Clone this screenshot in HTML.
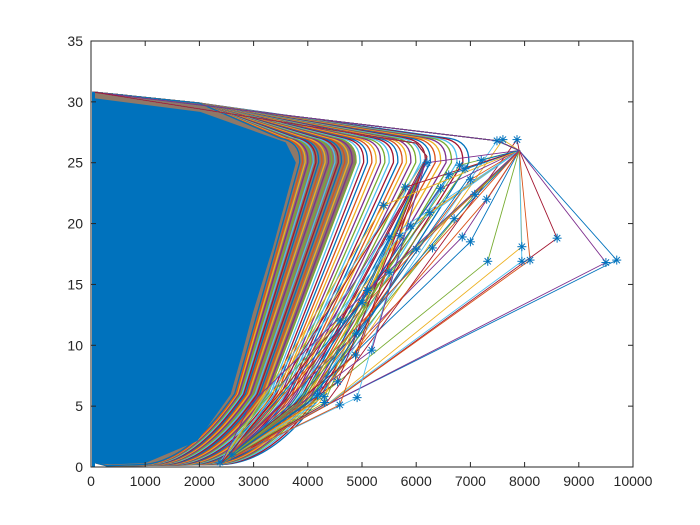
<!DOCTYPE html>
<html><head><meta charset="utf-8"><style>
body{margin:0;background:#fff;}
svg{display:block;font-family:"Liberation Sans",Arial,sans-serif;}
</style></head><body>
<svg id="chart" width="700" height="525">
<rect x="0" y="0" width="700" height="525" fill="#fff"/>
<rect x="91" y="41" width="542" height="426" fill="#fff"/>
<g id="marks"></g>
<g id="axes"></g>
</svg>
<script>
const xTicks=[0,1000,2000,3000,4000,5000,6000,7000,8000,9000,10000];
const yTicks=[0,5,10,15,20,25,30,35];
const kneeX=[3850,3900,3950,4000,4050,4100,4150,4200,4260,4320,4380,4440,4500,4560,4620,4680,4750,4820,4890,4960,5030,5100,5180,5260,5340,5420,5500,5580,5660,5740,5820,5900,5990,6080,6170,6260,6350,6450,6550,6650,6750,6860,6970];
const lowX=[2650,2680,2700,2730,2760,2790,2820,2850,2880,2910,2950,2990,3030,3070,3110,3150,3190,3230,3270,3310,3350,3390,3430,3470,3510,3550,3590,3630,3670,3710,3750,3790,3830,3870,3910,3950,3990,4030,4070,4110,4160,4210,4260];
const starX=[9700,9500,8600,7950,7950,8100,7320,7000,6850,7860,7600,7490,7000,7080,6700,6450,6250,5900,5500,6000,5500,5000,4900,4550,4300,4910,4590,4310,4180,5180,4880,2600,2380,7300,6900,6600,6200,5800,5400,5700,6300,6800,7200,5100,4600];
const starY=[17.0,16.8,18.8,18.1,16.9,17.0,16.9,18.5,18.9,26.9,26.9,26.8,23.6,22.4,20.4,22.9,20.9,19.8,18.9,17.9,16.0,13.5,11.0,7.0,5.8,5.7,5.1,5.3,5.9,9.6,9.2,1.0,0.4,22.0,24.5,24.0,25.0,23.0,21.5,19.0,18.0,24.8,25.2,14.5,12.0];
const cloudX=[74,2010,3580,3760,3340,2970,2750,2560,1950,1000,350,74];
const cloudY=[30.2,29.1,26.6,25.0,18.1,12.7,9.0,6.0,2.2,0.4,0.3,0.4];
const X0=91,X1=633,Y0=467,Y1=41;
const sx=v=>X0+(v/10000)*(X1-X0);
const sy=v=>Y0-(v/35)*(Y0-Y1);
const NS="http://www.w3.org/2000/svg";
const cols=["#0072BD","#D95319","#EDB120","#7E2F8E","#77AC30","#4DBEEE","#A2142F"];
const marks=document.getElementById('marks');
const axes=document.getElementById('axes');
function mk(t,a,p){const e=document.createElementNS(NS,t);for(const k in a)e.setAttribute(k,a[k]);p.appendChild(e);return e;}
const P=(x,y)=>sx(x).toFixed(1)+' '+sy(y).toFixed(1);
function trajPath(K,M){
 const E=900+(M-2650)*0.9;
 return 'M'+P(40,30.8)+' L'+P(2000,29.9)+' L'+P(K-350,27.0)+' Q'+P(K+20,26.7)+' '+P(K,25.0)+
   ' L'+P(M,6)+' Q'+P(M-900,0.2)+' '+P(E,0.2)+' L'+P(300,0.1)+' L'+P(40,0.4)+' Z';
}
const bp=mk('path',{d:trajPath(kneeX[18],lowX[18]),fill:'#8f7868'},marks);


for(let i=kneeX.length-1;i>=0;i--){
 const l=mk('path',{d:trajPath(kneeX[i],lowX[i]),fill:'none',stroke:cols[i%7],'stroke-width':1.3},marks);
 
 
}
for(let i=0;i<starX.length;i++){
 const top=starY[i]>14;
 const pts=top?[P(40,30.8),P(7500,26.8),P(7900,26),P(starX[i],starY[i]),P(Math.min(starX[i]*0.5+400,4400),5.2),P(2400,0.3)]
              :[P(40,30.8),P(6000,26.6),P(6200,25.5),P(starX[i],starY[i]),P(2400,0.3)];
 const l=mk('polyline',{points:pts.join(' '),fill:'none',stroke:cols[(i*3)%7],'stroke-width':0.9},marks);
 
 
}
const cp=mk('polygon',{points:cloudX.map((x,i)=>sx(x)+','+sy(cloudY[i])).join(' '),fill:'#0072BD','stroke':'#0072BD','stroke-width':2,'stroke-linejoin':'round'},marks);


const lp=mk('rect',{x:sx(0)+1,y:sy(30.8),width:3,height:sy(0)-sy(30.8),fill:'#0072BD'},marks);


for(let i=0;i<starX.length;i++){
 const cx=sx(starX[i]),cy=sy(starY[i]),r=4.5;
 const g=mk('g',{stroke:'#0072BD','stroke-width':1},marks);
 
 
 mk('line',{x1:cx-r,y1:cy,x2:cx+r,y2:cy},g);
 mk('line',{x1:cx,y1:cy-r,x2:cx,y2:cy+r},g);
 mk('line',{x1:cx-r*.7,y1:cy-r*.7,x2:cx+r*.7,y2:cy+r*.7},g);
 mk('line',{x1:cx-r*.7,y1:cy+r*.7,x2:cx+r*.7,y2:cy-r*.7},g);
}
const box=mk('rect',{x:X0,y:Y1,width:X1-X0,height:Y0-Y1,fill:'none',stroke:'#262626','stroke-width':1},axes);


xTicks.forEach(v=>{
 const x=sx(v);
 mk('line',{x1:x,y1:Y0,x2:x,y2:Y0-5,stroke:'#262626'},axes);
 mk('line',{x1:x,y1:Y1,x2:x,y2:Y1+5,stroke:'#262626'},axes);
 const t=mk('text',{x:x,y:Y0+19,'text-anchor':'middle','font-size':14,fill:'#262626'},axes);
 t.textContent=v;
 
 
});
yTicks.forEach(v=>{
 const y=sy(v);
 mk('line',{x1:X0,y1:y,x2:X0+5,y2:y,stroke:'#262626'},axes);
 mk('line',{x1:X1,y1:y,x2:X1-5,y2:y,stroke:'#262626'},axes);
 const t=mk('text',{x:X0-8,y:y+5,'text-anchor':'end','font-size':14,fill:'#262626'},axes);
 t.textContent=v;
 
 
});
</script>
</body></html>
